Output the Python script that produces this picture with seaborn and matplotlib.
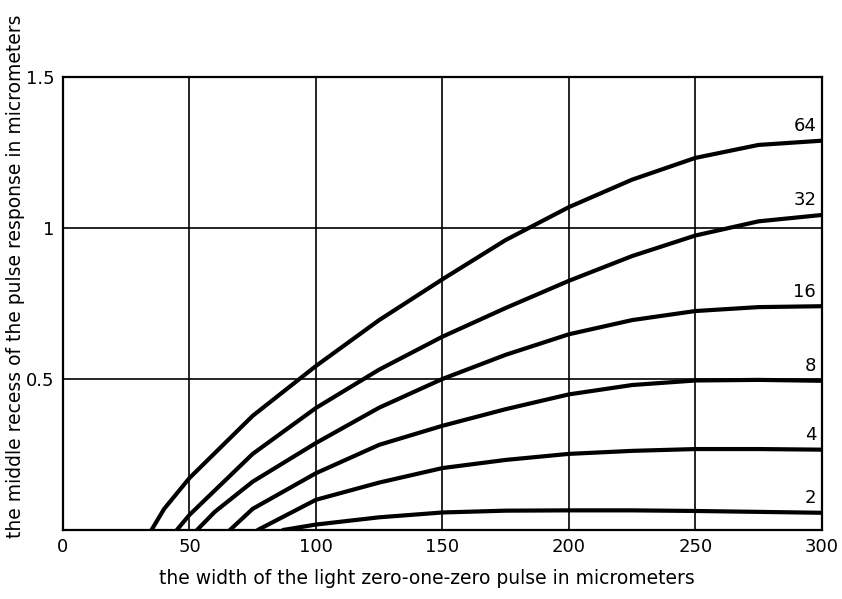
import pandas as pd
import matplotlib
matplotlib.use("Agg")
import matplotlib.pyplot as plt
import seaborn as sns

# curve values (x in micrometers, y in micrometers)
x_64 = [35, 40, 50, 75, 100, 125, 150, 175, 200, 225, 250, 275, 300]
y_64 = [0, 0.07, 0.172, 0.378, 0.543, 0.695, 0.83, 0.96, 1.069, 1.16, 1.232, 1.275, 1.289]

x_32 = [45, 50, 75, 100, 125, 150, 175, 200, 225, 250, 275, 300]
y_32 = [0, 0.05, 0.252, 0.404, 0.531, 0.64, 0.735, 0.825, 0.907, 0.975, 1.022, 1.043]

x_16 = [53, 60, 75, 100, 125, 150, 175, 200, 225, 250, 275, 300]
y_16 = [0, 0.06, 0.16, 0.288, 0.405, 0.5, 0.58, 0.648, 0.695, 0.725, 0.738, 0.741]

x_8 = [66, 75, 100, 125, 150, 175, 200, 225, 250, 275, 300]
y_8 = [0, 0.07, 0.188, 0.282, 0.345, 0.40, 0.449, 0.48, 0.495, 0.497, 0.494]

x_4 = [77, 100, 125, 150, 175, 200, 225, 250, 275, 300]
y_4 = [0, 0.10, 0.157, 0.205, 0.232, 0.252, 0.262, 0.268, 0.268, 0.266]

x_2 = [87, 100, 125, 150, 175, 200, 225, 250, 275, 300]
y_2 = [0, 0.018, 0.042, 0.058, 0.064, 0.065, 0.065, 0.063, 0.06, 0.057]

curve_labels = ["64", "32", "16", "8", "4", "2"]
curves_x = [x_64, x_32, x_16, x_8, x_4, x_2]
curves_y = [y_64, y_32, y_16, y_8, y_4, y_2]

x_ticks = [0, 50, 100, 150, 200, 250, 300]
y_ticks = [0.5, 1, 1.5]
y_tick_labels = ["0.5", "1", "1.5"]

frames = []
for lab, xs, ys in zip(curve_labels, curves_x, curves_y):
    frames.append(pd.DataFrame({"width": xs, "recess": ys, "curve": lab}))
df = pd.concat(frames, ignore_index=True)

sns.set_style("white")
plt.rcParams["font.family"] = ["DejaVu Sans"]
plt.rcParams["text.color"] = "black"
plt.rcParams["axes.labelcolor"] = "black"

fig = plt.figure(figsize=(8.42, 5.99), dpi=100)
ax = fig.add_axes([0.0748, 0.1152, 0.9012, 0.7563])

sns.lineplot(data=df, x="width", y="recess", units="curve", estimator=None,
             color="black", linewidth=3, sort=False, ax=ax)

for lab, xs, ys in zip(curve_labels, curves_x, curves_y):
    ax.annotate(lab, (xs[-1], ys[-1]), xytext=(-4, 4), textcoords="offset points",
                ha="right", va="bottom", fontsize=13, color="black")

ax.set_xlim(0, 300)
ax.set_ylim(0, 1.5)
ax.set_xticks(x_ticks)
ax.set_yticks(y_ticks)
ax.set_yticklabels(y_tick_labels)
ax.tick_params(axis="both", length=0, labelsize=13, colors="black")
ax.tick_params(axis="x", pad=6)
ax.tick_params(axis="y", pad=6)
ax.grid(True, color="black", linewidth=1.2)
for s in ax.spines.values():
    s.set_color("black")
    s.set_linewidth(1.6)

ax.set_xlabel("the width of the light zero-one-zero pulse in micrometers", fontsize=13.5)
ax.set_ylabel("the middle recess of the pulse response in micrometers", fontsize=13.5)
ax.yaxis.set_label_coords(-0.05, 0.56)
ax.xaxis.set_label_coords(0.48, -0.085)

fig.savefig("out.png", dpi=100)
